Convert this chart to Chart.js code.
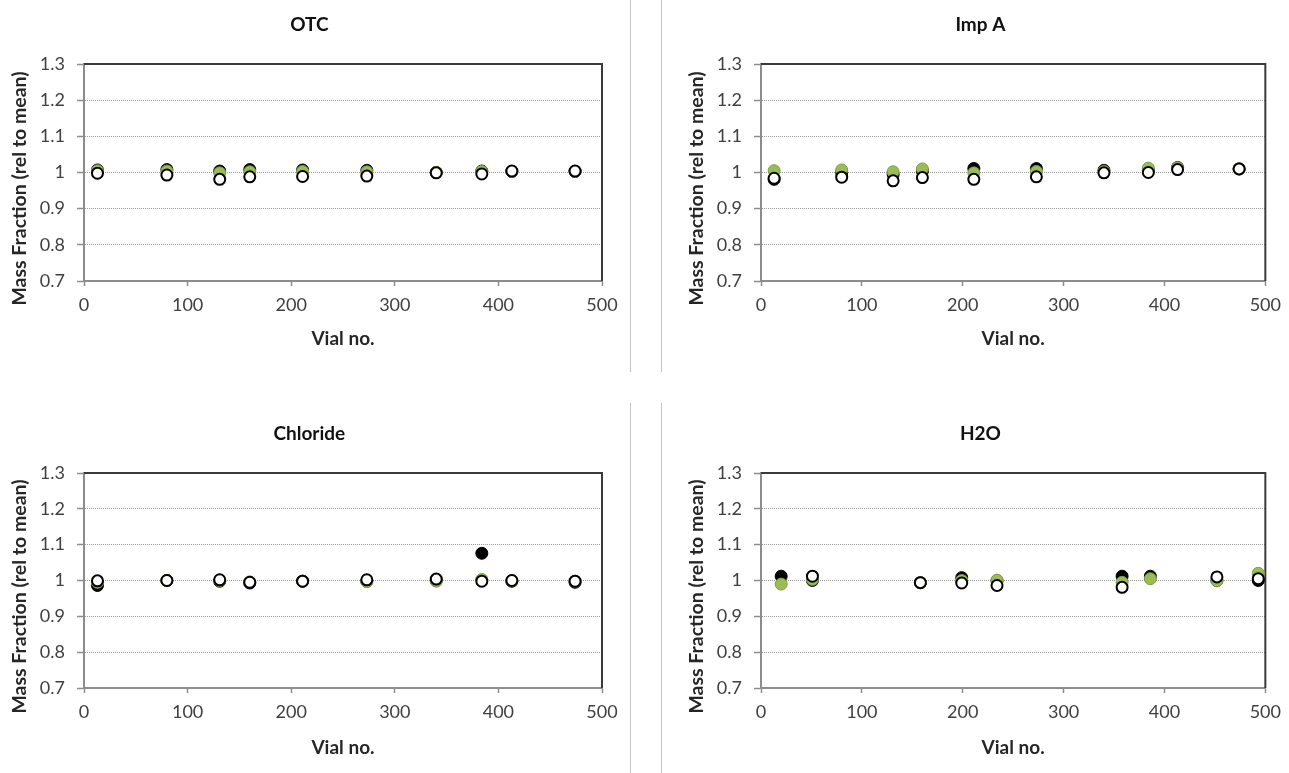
<!DOCTYPE html>
<html lang="en">
<head>
  <meta charset="UTF-8">
  <title>Homogeneity - Mass Fraction rel. to mean</title>
  <script src="https://cdn.jsdelivr.net/npm/chart.js@4.4.0/dist/chart.umd.min.js"></script>
  <style>
    body {
      margin: 0;
      background: #fff;
      width: 1289px;
      height: 773px;
      position: relative;
      overflow: hidden;
      font-family: 'Lato', sans-serif;
    }
    canvas {
      position: absolute;
    }
    .divider {
      position: absolute;
      width: 1px;
      background: #c4c4c4;
    }
  </style>
</head>
<body>
  <canvas id="otc" width="630" height="372" style="left:0;top:0"></canvas>
  <canvas id="impA" width="627" height="372" style="left:662px;top:0"></canvas>
  <canvas id="chloride" width="630" height="370" style="left:0;top:403px"></canvas>
  <canvas id="h2o" width="627" height="370" style="left:662px;top:403px"></canvas>

  <div class="divider" style="left:630px;top:0;height:372px"></div>
  <div class="divider" style="left:661px;top:0;height:372px"></div>
  <div class="divider" style="left:630px;top:403px;height:370px"></div>
  <div class="divider" style="left:661px;top:403px;height:370px"></div>

  <script>
    // axis ticks
    const xTicks = [0, 100, 200, 300, 400, 500];
    const yTicks = [0.7, 0.8, 0.9, 1, 1.1, 1.2, 1.3];
    const yTickLabels = ['0.7', '0.8', '0.9', '1', '1.1', '1.2', '1.3'];

    // vial numbers (same set for OTC, Imp A, Chloride)
    const vials = [13, 80, 131, 160, 211, 273, 340, 384, 413, 474];
    const vialsH2O = [20, 51, 158, 199, 234, 358, 386, 452, 493];

    // OTC
    const otcBlack = [1.007, 1.008, 1.004, 1.008, 1.007, 1.006, 1.000, 1.004, 1.003, 1.003];
    const otcGreen = [1.005, 1.004, 0.999, 1.002, 1.003, 1.002, 1.000, 1.003, 1.003, 1.003];
    const otcWhite = [0.998, 0.993, 0.981, 0.988, 0.989, 0.990, 0.999, 0.996, 1.004, 1.004];

    // Imp A
    const impBlack = [0.981, 1.000, 0.995, 1.004, 1.011, 1.011, 1.006, 1.006, 1.014, 1.010];
    const impGreen = [1.005, 1.007, 1.002, 1.010, 0.999, 1.003, 1.003, 1.012, 1.013, 1.010];
    const impWhite = [0.984, 0.987, 0.977, 0.986, 0.981, 0.988, 0.999, 1.000, 1.008, 1.010];

    // Chloride
    const clBlack = [0.986, 1.000, 0.998, 0.993, 0.998, 0.998, 1.000, 1.076, 0.998, 0.995];
    const clGreen = [0.995, 1.000, 1.000, 0.996, 0.998, 0.997, 0.998, 1.003, 1.000, 0.998];
    const clWhite = [0.999, 1.000, 1.002, 0.995, 0.998, 1.002, 1.004, 0.998, 1.000, 0.998];

    // H2O
    const h2oBlack = [1.012, 1.000, 0.994, 1.008, 0.999, 1.012, 1.012, 1.000, 1.000];
    const h2oGreen = [0.990, 1.003, 0.994, 1.000, 1.001, 0.995, 1.005, 0.999, 1.020];
    const h2oWhite = [null, 1.012, 0.994, 0.993, 0.986, 0.981, null, 1.010, 1.005];

    Chart.defaults.font.family = 'Lato';
    Chart.defaults.color = '#404040';

    const GREEN = '#9bbb59';
    const AXIS_GREY = '#8c8c8c';

    function points(xs, ys) {
      return xs.map((x, i) => ({ x: x, y: ys[i] })).filter(p => p.y !== null);
    }

    // plot frame (top + right) and chart / y-axis titles, Excel style
    const panelDecor = {
      id: 'panelDecor',
      beforeDatasetsDraw(chart, args, opts) {
        const { ctx, chartArea: a } = chart;
        ctx.save();
        ctx.strokeStyle = '#3a3a3a';
        ctx.lineWidth = 2;
        ctx.beginPath();
        ctx.moveTo(a.left, a.top);
        ctx.lineTo(a.right, a.top);
        ctx.lineTo(a.right, a.bottom);
        ctx.stroke();
        ctx.restore();
      },
      afterDraw(chart, args, opts) {
        const { ctx, chartArea: a } = chart;
        ctx.save();
        ctx.fillStyle = '#111';
        ctx.textAlign = 'center';
        ctx.textBaseline = 'middle';
        ctx.font = 'bold 19px Lato';
        ctx.fillText(opts.title, a.left + 0.435 * (a.right - a.left), opts.titleY);

        ctx.font = 'bold 19.5px Lato';
        ctx.fillStyle = '#262626';
        ctx.translate(a.left - 64, (a.top + a.bottom) / 2 + 16);
        ctx.rotate(-Math.PI / 2);
        ctx.fillText('Mass Fraction (rel to mean)', 0, 0);
        ctx.restore();
      }
    };

    function makeChart(id, cfg) {
      const canvas = document.getElementById(id);
      const W = canvas.width, H = canvas.height;
      new Chart(canvas, {
        type: 'scatter',
        data: {
          datasets: [
            {
              label: 'white',
              data: points(cfg.x, cfg.white),
              pointRadius: 5.5,
              pointBackgroundColor: '#fff',
              pointBorderColor: '#000',
              pointBorderWidth: 2
            },
            {
              label: 'green',
              data: points(cfg.x, cfg.green),
              pointRadius: 6,
              pointBackgroundColor: GREEN,
              pointBorderColor: '#7d9c42',
              pointBorderWidth: 1
            },
            {
              label: 'black',
              data: points(cfg.x, cfg.black),
              pointRadius: 6,
              pointBackgroundColor: '#000',
              pointBorderColor: '#000',
              pointBorderWidth: 1
            }
          ]
        },
        options: {
          responsive: false,
          animation: false,
          events: [],
          layout: {
            padding: { left: 0, top: cfg.top, right: W - cfg.right, bottom: 0 }
          },
          plugins: {
            legend: { display: false },
            tooltip: { enabled: false },
            panelDecor: { title: cfg.title, titleY: cfg.titleY }
          },
          scales: {
            x: {
              type: 'linear',
              min: 0,
              max: 500,
              afterBuildTicks: s => { s.ticks = xTicks.map(v => ({ value: v })); },
              afterFit: s => { s.height = H - cfg.bottom; },
              ticks: { font: { size: 18 }, padding: 8, color: '#404040' },
              grid: {
                drawOnChartArea: false,
                drawTicks: true,
                tickLength: 5,
                tickColor: AXIS_GREY,
                tickWidth: 1.5
              },
              border: { display: true, color: AXIS_GREY, width: 2 },
              title: {
                display: true,
                text: 'Vial no.',
                font: { size: 19, weight: 'bold' },
                color: '#262626',
                padding: { top: 0, bottom: cfg.xTitlePad }
              }
            },
            y: {
              type: 'linear',
              min: 0.7,
              max: 1.3,
              afterBuildTicks: s => { s.ticks = yTicks.map(v => ({ value: v })); },
              afterFit: s => { s.width = cfg.left; },
              ticks: {
                font: { size: 18 },
                padding: 12,
                color: '#404040',
                callback: (v) => yTickLabels[yTicks.findIndex(t => Math.abs(t - v) < 1e-6)]
              },
              grid: {
                drawTicks: true,
                tickLength: 7,
                tickColor: AXIS_GREY,
                tickWidth: 1.5,
                lineWidth: 1,
                color: c => (c.tick && (Math.abs(c.tick.value - 0.7) < 1e-6 || Math.abs(c.tick.value - 1.3) < 1e-6))
                  ? 'rgba(0,0,0,0)' : '#9a9a9a'
              },
              border: { display: true, color: AXIS_GREY, width: 2, dash: [1, 1] }
            }
          }
        },
        plugins: [panelDecor]
      });
    }

    makeChart('otc', {
      title: 'OTC', x: vials, black: otcBlack, green: otcGreen, white: otcWhite,
      left: 84, right: 602, top: 64, bottom: 281, titleY: 25, xTitlePad: 22
    });
    makeChart('impA', {
      title: 'Imp A', x: vials, black: impBlack, green: impGreen, white: impWhite,
      left: 99, right: 614, top: 64, bottom: 281, titleY: 25, xTitlePad: 22
    });
    makeChart('chloride', {
      title: 'Chloride', x: vials, black: clBlack, green: clGreen, white: clWhite,
      left: 84, right: 602, top: 70, bottom: 285, titleY: 31, xTitlePad: 14
    });
    makeChart('h2o', {
      title: 'H2O', x: vialsH2O, black: h2oBlack, green: h2oGreen, white: h2oWhite,
      left: 99, right: 614, top: 70, bottom: 285, titleY: 31, xTitlePad: 14
    });
  </script>
</body>
</html>
